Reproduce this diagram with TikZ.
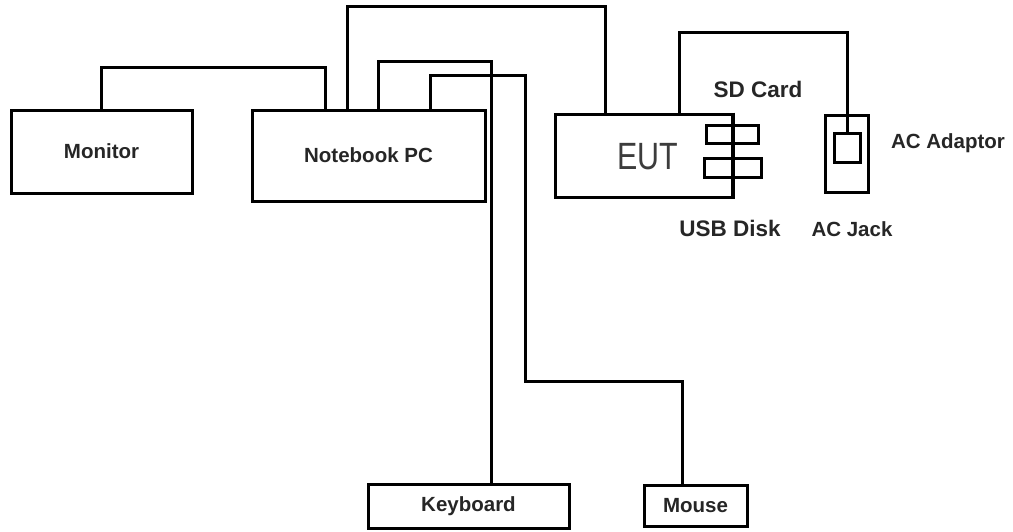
\documentclass[tikz,border=0pt]{standalone}
\usepackage{fontspec}
\setmainfont{Liberation Sans}
\newfontfamily\eutfont[FakeStretch=0.8]{Liberation Sans}
\usepackage{xcolor}
\usetikzlibrary{positioning,calc}
\definecolor{inkgray}{HTML}{262626}
\tikzset{
  devbox/.style={draw, line width=3pt, inner sep=0pt, align=center,
    font=\bfseries\fontsize{20.5}{24}\selectfont, text=inkgray},
  slotbox/.style={draw, line width=3pt, inner sep=0pt},
  cable/.style={line width=3pt},
  tag/.style={font=\bfseries\fontsize{20.5}{24}\selectfont, text=inkgray, inner sep=0pt},
}

\begin{document}
\begin{tikzpicture}[x=1pt, y=-1pt]
  \useasboundingbox (0,0) rectangle (1013,531);

  % Host side
  \node[devbox, minimum width=181pt, minimum height=83pt] (monitor)
    at (101.5,151.5) {Monitor};
  \node[devbox, minimum width=233pt, minimum height=91pt] (nb)
    at (368.5,155.5) {Notebook PC};
  \node[devbox, minimum width=201pt, minimum height=44pt] (kbd)
    at (468.5,506) {Keyboard};
  \node[devbox, minimum width=103pt, minimum height=41pt] (mouse)
    at (695.5,505.5) {Mouse};

  % EUT with slots
  \node[devbox, minimum width=177pt, minimum height=83pt] (eut)
    at (643.5,155.5) {};
  \node[font=\eutfont\fontsize{38}{38}\selectfont, text=inkgray!90, inner sep=0pt]
    (euttxt) at (648,157) {EUT};
  \node[slotbox, minimum width=52pt, minimum height=18pt] (sd) at (732,134) {};
  \node[slotbox, minimum width=57pt, minimum height=19pt] (usb) at (732.5,167.5) {};
  \draw[line width=3pt] (eut.north east) -- (eut.south east);

  % AC jack and adaptor plug
  \node[slotbox, minimum width=43pt, minimum height=77pt] (jack) at (846.5,153.5) {};
  \node[slotbox, minimum width=26pt, minimum height=29pt] (plug) at (847,147.5) {};

  % Labels
  \node[tag, font=\bfseries\fontsize{22.5}{26}\selectfont] (sdlbl) at (758,89) {SD Card};
  \node[tag, font=\bfseries\fontsize{22.5}{26}\selectfont] (usblbl) at (730,228) {USB Disk};
  \node[tag] (jacklbl) at (852,229) {AC Jack};
  \node[tag] (adlbl) at (948,143) {AC Adaptor};

  % Cables
  \draw[cable] (monitor.north) -- ++(0,-41) -| ($(nb.north west)+(75,0)$);
  \draw[cable] ($(nb.north west)+(97,0)$) -- ++(0,-102) -| ($(eut.north west)+(52,0)$);
  \draw[cable] ($(nb.north west)+(128,0)$) -- ++(0,-47) -| ($(kbd.north west)+(125,0)$);
  \draw[cable] ($(nb.north west)+(180,0)$) -- ++(0,-33) -| ++(95,306)
    -| ($(mouse.north west)+(40,0)$);
  \draw[cable] ($(eut.north west)+(126,0)$) -- ++(0,-80) -| (plug.north);
\end{tikzpicture}
\end{document}
